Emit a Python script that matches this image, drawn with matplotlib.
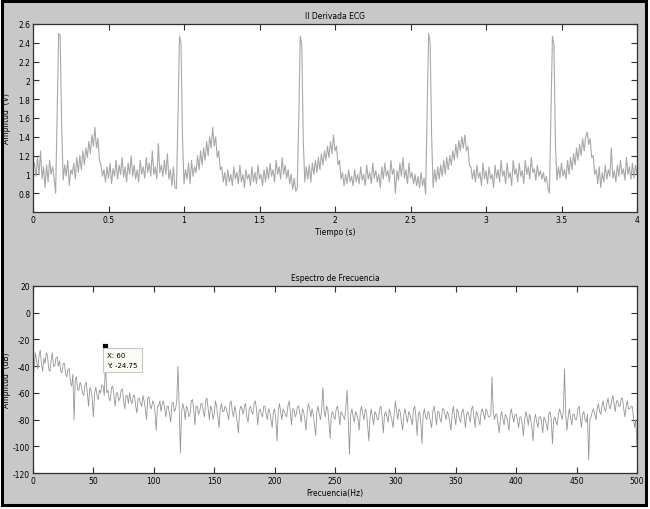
import numpy as np
import matplotlib
matplotlib.use("Agg")
import matplotlib.pyplot as plt
from matplotlib.patches import Rectangle

plt.rcParams['font.family'] = ['Liberation Sans Narrow', 'DejaVu Sans']
plt.rcParams['axes.unicode_minus'] = False

# ---------------- data ----------------
ecg_title = "II Derivada ECG"
ecg_xlabel = "Tiempo (s)"
ecg_ylabel = "Amplitud  (V)"
ecg_dt = 0.01
# ECG amplitude in hundredths of a volt, one value every 10 ms (0 .. 4 s)
ecg_cV = [
    105, 112, 98, 118, 100, 125, 95, 108, 86, 110, 92, 115, 100, 108, 96,
    80, 165, 250, 248, 150, 94,
    110, 98, 115, 88, 105, 100, 112, 95, 118, 102,
    120, 105, 125, 110, 128, 118, 135, 122, 142, 130,
    150, 128, 138, 115, 110, 98,
    105, 92, 108, 96, 112, 90, 106, 98, 115, 95,
    110, 100, 118, 97, 108, 92, 112, 100, 120, 98,
    110, 95, 105, 92, 115, 100, 108, 96, 118, 102,
    112, 98, 125, 100, 108, 95, 133, 102, 110, 98,
    115, 100, 122, 95, 105, 88, 108, 86,
    85, 160, 247, 240, 140, 90,
    105, 95, 112, 90, 115, 98, 108, 102, 120, 105,
    125, 110, 128, 115, 135, 120, 140, 128, 150, 130,
    140, 118, 125, 105, 108, 92,
    102, 88, 105, 92, 100, 88, 108, 95, 102, 90,
    110, 92, 100, 86, 105, 95, 100, 88, 108, 92,
    102, 90, 110, 95, 100, 88, 105, 92, 108, 95,
    112, 98, 105, 92, 115, 100, 108, 95, 118, 100,
    110, 96, 105, 90, 100, 84, 96, 82,
    85, 160, 247, 238, 135, 92,
    108, 95, 110, 92, 112, 100, 115, 102, 118, 105,
    122, 110, 125, 115, 130, 118, 135, 122, 142, 125,
    130, 110, 115, 95, 102, 88,
    100, 90, 105, 92, 98, 88, 105, 92, 100, 90,
    108, 94, 100, 88, 110, 95, 102, 90, 112, 96,
    104, 92, 100, 86, 108, 95, 112, 98, 104, 92,
    115, 100, 106, 80, 104, 94, 112, 98, 118, 96,
    105, 90, 112, 96, 102, 90, 100, 88, 98, 86,
    102, 88, 96,
    79, 165, 250, 240, 140, 86,
    105, 92, 108, 95, 110, 98, 115, 100, 118, 105,
    120, 110, 125, 115, 132, 118, 136, 125, 140, 128,
    142, 125, 130, 110, 108, 95,
    105, 92, 110, 96, 102, 88, 112, 95, 104, 90,
    108, 95, 100, 86, 110, 96, 105, 92, 115, 98,
    104, 90, 112, 96, 102, 88, 115, 100, 106, 92,
    112, 98, 104, 90, 115, 100, 108, 95, 118, 102,
    106, 94, 110, 98, 104, 95, 102, 92, 98, 86,
    80, 165, 247, 238, 130, 94,
    108, 96, 112, 98, 105, 95, 115, 100, 118, 105,
    122, 110, 128, 115, 132, 120, 138, 125, 140, 145,
    132, 138, 118, 120, 100, 105,
    90, 108, 86, 102, 92, 110, 95, 105, 98, 128,
    96, 104, 92, 110, 98, 115, 100, 106, 94, 118,
    100, 108, 95, 112, 96, 110, 100,
]
ecg_xticks = [0, 0.5, 1, 1.5, 2, 2.5, 3, 3.5, 4]
ecg_xticklabels = ["0", "0.5", "1", "1.5", "2", "2.5", "3", "3.5", "4"]
ecg_yticks = [0.8, 1.0, 1.2, 1.4, 1.6, 1.8, 2.0, 2.2, 2.4, 2.6]
ecg_yticklabels = ["0.8", "1", "1.2", "1.4", "1.6", "1.8", "2", "2.2", "2.4", "2.6"]

spec_title = "Espectro de Frecuencia"
spec_xlabel = "Frecuencia(Hz)"
spec_ylabel = "Amplitud  (dB)"
spec_df = 1.0
# spectrum magnitude in dB, one value every 1 Hz (0 .. 500 Hz)
spec_db = [
    -52, -40, -30, -36, -42, -32, -28, -38, -44, -34,
    -38, -30, -32, -42, -44, -36, -30, -40, -40, -34,
    -33, -40, -36, -44, -45, -38, -38, -46, -48, -42,
    -42, -52, -55, -46, -80, -50, -48, -58, -58, -52,
    -55, -60, -62, -54, -52, -60, -70, -56, -58, -64,
    -78, -60, -56, -62, -65, -58, -60, -54, -55, -62,
    -36, -60, -58, -64, -66, -56, -55, -62, -70, -60,
    -60, -66, -64, -58, -57, -66, -72, -62, -62, -68,
    -60, -66, -68, -62, -62, -70, -75, -64, -64, -68,
    -70, -62, -66, -72, -80, -64, -63, -70, -72, -66,
    -68, -74, -88, -70, -70, -66, -74, -68, -66, -72,
    -78, -70, -70, -76, -82, -68, -67, -74, -72, -66,
    -40, -70, -105, -74, -68, -72, -80, -70, -72, -78,
    -76, -66, -65, -72, -84, -70, -70, -76, -74, -68,
    -68, -74, -78, -66, -64, -72, -80, -70, -72, -80,
    -76, -66, -70, -78, -86, -72, -68, -74, -74, -70,
    -72, -76, -80, -68, -66, -74, -78, -70, -74, -82,
    -90, -74, -70, -72, -76, -70, -68, -78, -82, -72,
    -70, -74, -76, -68, -66, -72, -84, -74, -72, -76,
    -78, -70, -70, -76, -80, -72, -74, -80, -86, -74,
    -72, -80, -96, -74, -68, -74, -80, -72, -74, -76,
    -78, -70, -66, -74, -84, -72, -72, -78, -76, -70,
    -70, -76, -82, -72, -74, -80, -88, -74, -68, -72,
    -78, -72, -76, -84, -92, -74, -70, -76, -80, -72,
    -56, -74, -78, -70, -72, -82, -94, -76, -74, -78,
    -80, -72, -70, -76, -84, -74, -76, -78, -80, -70,
    -58, -80, -106, -76, -72, -78, -82, -74, -76, -80,
    -88, -74, -70, -76, -80, -72, -74, -84, -96, -78,
    -72, -78, -84, -74, -76, -80, -80, -72, -70, -78,
    -90, -76, -74, -78, -82, -72, -76, -80, -86, -76,
    -66, -74, -80, -72, -74, -82, -88, -76, -72, -78,
    -82, -74, -76, -80, -84, -72, -70, -78, -92, -76,
    -74, -82, -98, -76, -72, -78, -80, -74, -76, -82,
    -86, -74, -70, -76, -84, -74, -74, -80, -82, -72,
    -72, -76, -80, -74, -76, -82, -88, -76, -70, -78,
    -84, -72, -74, -80, -82, -74, -72, -78, -86, -76,
    -74, -78, -82, -72, -70, -78, -86, -74, -76, -80,
    -84, -74, -72, -76, -80, -72, -74, -78, -78, -76,
    -48, -74, -80, -76, -76, -84, -90, -78, -74, -80,
    -84, -76, -78, -82, -88, -76, -72, -78, -82, -76,
    -76, -80, -86, -78, -78, -84, -92, -80, -74, -78,
    -84, -76, -80, -86, -96, -80, -76, -82, -86, -78,
    -78, -82, -90, -78, -80, -84, -88, -76, -74, -80,
    -98, -80, -78, -82, -84, -76, -72, -76, -80, -74,
    -42, -76, -88, -78, -72, -78, -84, -76, -76, -80,
    -80, -72, -70, -78, -86, -76, -74, -80, -82, -76,
    -110, -80, -78, -74, -72, -76, -80, -72, -68, -74,
    -76, -70, -66, -72, -74, -68, -64, -70, -72, -66,
    -62, -68, -74, -66, -66, -70, -70, -64, -64, -72,
    -78, -70, -66, -72, -72, -70, -70, -78, -86, -80,
    -100,
]
spec_xticks = [0, 50, 100, 150, 200, 250, 300, 350, 400, 450, 500]
spec_yticks = [-120, -100, -80, -60, -40, -20, 0, 20]
tip_x = 60
tip_y = -24.75
tip_text = "X: 60\nY: -24.75"

# ---------------- figure ----------------
W, H = 650, 510
fig = plt.figure(figsize=(W / 100, H / 100), dpi=100, facecolor="white")
fig.patches.append(Rectangle((1.5 / W, 1 - 506 / H), 644.5 / W, 504 / H,
                             transform=fig.transFigure, facecolor="#c8c8c8",
                             edgecolor="black", linewidth=2.2, zorder=-10))

fs = 5.5


def px_axes(l, t, r, b):
    return fig.add_axes([l / W, 1 - b / H, (r - l) / W, (b - t) / H])


def style(ax):
    ax.set_facecolor("white")
    for s in ax.spines.values():
        s.set_color("#303030")
        s.set_linewidth(0.9)
    ax.tick_params(direction="in", length=4, width=0.8, color="#303030",
                   labelsize=fs, top=True, right=True, pad=2)


ax1 = px_axes(33, 25, 637, 213)
style(ax1)
t = np.arange(len(ecg_cV)) * ecg_dt
ax1.plot(t, np.array(ecg_cV) / 100.0, color="#a8a8a8", linewidth=0.8)
ax1.set_xlim(0, 4)
ax1.set_ylim(0.6, 2.6)
ax1.set_xticks(ecg_xticks)
ax1.set_xticklabels(ecg_xticklabels)
ax1.set_yticks(ecg_yticks)
ax1.set_yticklabels(ecg_yticklabels)
ax1.set_title(ecg_title, fontsize=fs, pad=4)
ax1.set_xlabel(ecg_xlabel, fontsize=fs, labelpad=2)
ax1.set_ylabel(ecg_ylabel, fontsize=fs)
ax1.yaxis.set_label_coords(-0.036, 0.5)

ax2 = px_axes(33, 287, 637, 474)
style(ax2)
f = np.arange(len(spec_db)) * spec_df
ax2.plot(f, spec_db, color="#959595", linewidth=0.6)
ax2.set_xlim(0, 500)
ax2.set_ylim(-120, 20)
ax2.set_xticks(spec_xticks)
ax2.set_yticks(spec_yticks)
ax2.set_title(spec_title, fontsize=fs, pad=4)
ax2.set_xlabel(spec_xlabel, fontsize=fs, labelpad=2)
ax2.set_ylabel(spec_ylabel, fontsize=fs)
ax2.yaxis.set_label_coords(-0.036, 0.5)

ax2.plot([tip_x], [tip_y], marker="s", markersize=4, color="black",
         markeredgecolor="white", markeredgewidth=0.6, zorder=5)
ax2.text(tip_x + 1.5, tip_y - 5, tip_text, fontsize=fs - 0.5, va="top", ha="left",
         linespacing=1.7,
         bbox=dict(boxstyle="square,pad=0.6", facecolor="#fbfbf4",
                   edgecolor="#c8c8c8", linewidth=0.8), zorder=6)

fig.savefig("out.png", dpi=100, facecolor="white")
